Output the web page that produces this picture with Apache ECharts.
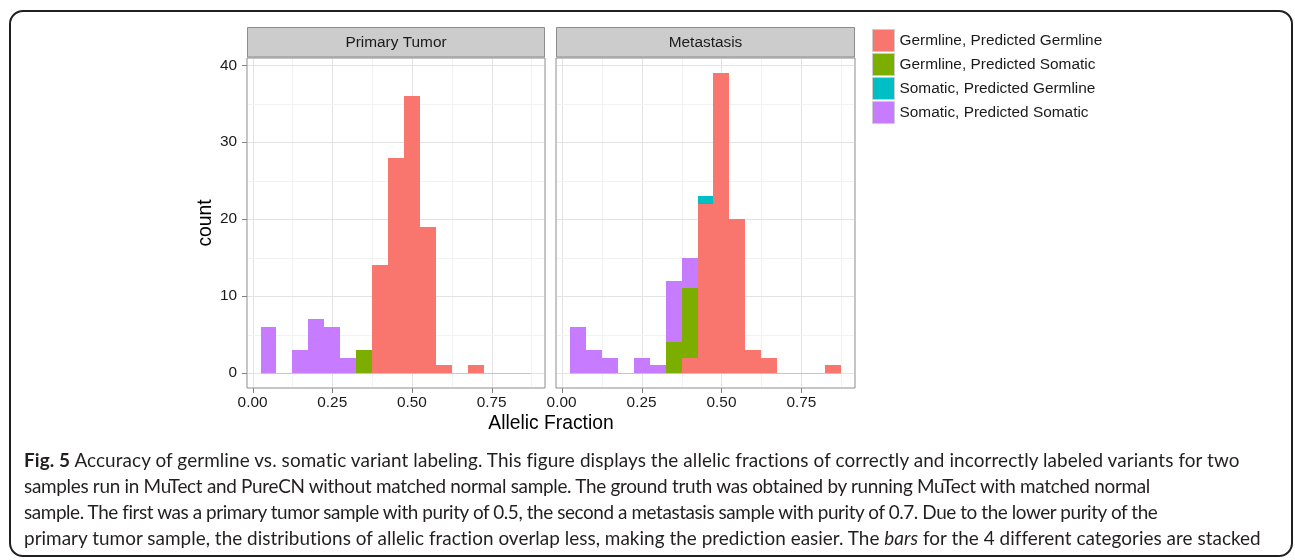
<!DOCTYPE html>
<html>
<head>
<meta charset="utf-8">
<script src="https://cdn.jsdelivr.net/npm/echarts@6/dist/echarts.min.js"></script>
<style>
html,body{margin:0;padding:0;background:#fff;}
#wrap{position:relative;width:1295px;height:560px;overflow:hidden;background:#fff;}
#chart{position:absolute;left:0;top:0;width:1295px;height:560px;}
#frame{position:absolute;left:9px;top:10px;width:1284px;height:547px;border:2px solid #231f20;border-radius:14px;box-sizing:border-box;pointer-events:none;}
#caption{position:absolute;left:24px;top:447px;font-family:Lato,'Open Sans',sans-serif;color:#231f20;white-space:nowrap;}
#caption div{height:26px;line-height:26px;}
</style>
</head>
<body>
<div id="wrap">
  <div id="chart"></div>
  <div id="frame"></div>
  <div id="caption"></div>
</div>
<script>
// ---------- data ----------
const binCenters = [0.05,0.10,0.15,0.20,0.25,0.30,0.35,0.40,0.45,0.50,0.55,0.60,0.65,0.70,0.75,0.80,0.85];
const binWidth = 0.05;
const categories = ['Germline, Predicted Germline','Germline, Predicted Somatic','Somatic, Predicted Germline','Somatic, Predicted Somatic'];
const categoryColors = ['#F8766D','#7CAE00','#00BFC4','#C77CFF'];
const panelNames = ['Primary Tumor','Metastasis'];

// Primary Tumor counts per bin
const primaryGermGerm = [0,0,0,0,0,0,0,14,28,36,19,1,0,1,0,0,0];
const primaryGermSom  = [0,0,0,0,0,0,3,0,0,0,0,0,0,0,0,0,0];
const primarySomGerm  = [0,0,0,0,0,0,0,0,0,0,0,0,0,0,0,0,0];
const primarySomSom   = [6,0,3,7,6,2,0,0,0,0,0,0,0,0,0,0,0];
// Metastasis counts per bin
const metaGermGerm = [0,0,0,0,0,0,0,2,22,39,20,3,2,0,0,0,1];
const metaGermSom  = [0,0,0,0,0,0,4,9,0,0,0,0,0,0,0,0,0];
const metaSomGerm  = [0,0,0,0,0,0,0,0,1,0,0,0,0,0,0,0,0];
const metaSomSom   = [6,3,2,0,2,1,8,4,0,0,0,0,0,0,0,0,0];

const xMajorTicks = [0, 0.25, 0.5, 0.75];
const xMinorTicks = [0.125, 0.375, 0.625, 0.875];
const yMajorTicks = [0, 10, 20, 30, 40];
const yMinorTicks = [5, 15, 25, 35];
const xLimits = [-0.0175, 0.9175];
const yLimits = [-1.95, 40.95];

const xTitle = 'Allelic Fraction';
const yTitle = 'count';

const captionBold = 'Fig. 5';
const captionLines = [
  ' Accuracy of germline vs. somatic variant labeling. This figure displays the allelic fractions of correctly and incorrectly labeled variants for two',
  'samples run in MuTect and PureCN without matched normal sample. The ground truth was obtained by running MuTect with matched normal',
  'sample. The first was a primary tumor sample with purity of 0.5, the second a metastasis sample with purity of 0.7. Due to the lower purity of the',
  'primary tumor sample, the distributions of allelic fraction overlap less, making the prediction easier. The |bars| for the 4 different categories are stacked'
];
const captionLineEnds = [1240, 1150, 1157, 1261];

// ---------- caption ----------
(function(){
  const cap = document.getElementById('caption');
  const left = 24;
  const ctx = document.createElement('canvas').getContext('2d');
  ctx.font = '20px Lato';
  const w = ctx.measureText(captionLines[3].replace(/\|/g,'')).width;
  const size = 20 * (captionLineEnds[3] - left) / w;
  cap.style.fontSize = size.toFixed(2) + 'px';
  captionLines.forEach((ln, i) => {
    const d = document.createElement('div');
    let html = ln.replace(/\|([^|]+)\|/g, '<i>$1</i>');
    if (i === 0) html = '<b>' + captionBold + '</b>' + html;
    const s = document.createElement('span');
    s.innerHTML = html;
    d.appendChild(s);
    cap.appendChild(d);
    const measured = s.getBoundingClientRect().width;
    const chars = s.textContent.length;
    const ls = ((captionLineEnds[i] - left) - measured) / chars;
    s.style.letterSpacing = ls.toFixed(3) + 'px';
  });
})();

// ---------- chart ----------
const FONT = "'Liberation Sans', Arial, Helvetica, sans-serif";
const panelData = [
  [primaryGermGerm, primaryGermSom, primarySomGerm, primarySomSom],
  [metaGermGerm, metaGermSom, metaSomGerm, metaSomSom]
];
const grids = [
  {left: 247, top: 58, width: 298, height: 330},
  {left: 556, top: 58, width: 299, height: 330}
];

function barRender(params, api) {
  const x = api.value(0), y0 = api.value(1), y1 = api.value(2);
  if (!(y1 > y0)) return null;
  const p0 = api.coord([x - binWidth / 2, y1]);
  const p1 = api.coord([x + binWidth / 2, y0]);
  const xa = Math.round(p0[0]), xb = Math.round(p1[0]);
  const ya = Math.round(p0[1]), yb = Math.round(p1[1]);
  return {
    type: 'rect',
    shape: {x: xa, y: ya, width: xb - xa, height: yb - ya},
    style: {fill: api.visual('color')}
  };
}

function gridRender(params, api) {
  const v = api.value(0), dir = api.value(1), major = api.value(2);
  const cs = params.coordSys;
  const color = major ? '#E3E3E3' : '#F2F2F2';
  if (dir === 0) {
    const px = Math.round(api.coord([v, 0])[0]) + 0.5;
    return {type: 'line', shape: {x1: px, y1: cs.y + 1, x2: px, y2: cs.y + cs.height - 1}, style: {stroke: color, lineWidth: 1}};
  }
  const py = Math.round(api.coord([0, v])[1]) + 0.5;
  return {type: 'line', shape: {x1: cs.x + 1, y1: py, x2: cs.x + cs.width - 1, y2: py}, style: {stroke: color, lineWidth: 1}};
}

function tickRender(params, api) {
  const v = api.value(0), dir = api.value(1);
  const cs = params.coordSys;
  const style = {stroke: '#7F7F7F', lineWidth: 1};
  if (dir === 0) {
    const px = Math.round(api.coord([v, 0])[0]) + 0.5;
    const yb = cs.y + cs.height;
    return {type: 'line', shape: {x1: px, y1: yb, x2: px, y2: yb + 5}, style: style};
  }
  const py = Math.round(api.coord([0, v])[1]) + 0.5;
  return {type: 'line', shape: {x1: cs.x - 5, y1: py, x2: cs.x, y2: py}, style: style};
}

function baseRender(color) {
  return function(params, api) {
    const a = api.coord([binCenters[0] - binWidth / 2, 0]);
    const b = api.coord([binCenters[binCenters.length - 1] + binWidth / 2, 0]);
    const py = Math.round(a[1]) + 0.5;
    return {type: 'line', shape: {x1: Math.round(a[0]), y1: py, x2: Math.round(b[0]), y2: py}, style: {stroke: color, lineWidth: 1}};
  };
}

const gridLineData = []
  .concat(xMajorTicks.map(v => [v, 0, 1]))
  .concat(xMinorTicks.map(v => [v, 0, 0]))
  .concat(yMajorTicks.map(v => [v, 1, 1]))
  .concat(yMinorTicks.map(v => [v, 1, 0]));

const series = [];
const xAxes = [];
const yAxes = [];
const graphics = [];

panelNames.forEach((pname, gi) => {
  xAxes.push({
    type: 'value', gridIndex: gi, min: xLimits[0], max: xLimits[1],
    axisLine: {show: false},
    axisTick: {show: false},
    axisLabel: {show: true, customValues: xMajorTicks, formatter: v => Number(v).toFixed(2), fontSize: 15.4, color: '#1a1a1a', fontFamily: FONT, margin: 7},
    splitLine: {show: false}
  });
  yAxes.push({
    type: 'value', gridIndex: gi, min: yLimits[0], max: yLimits[1],
    axisLine: {show: false},
    axisTick: {show: false},
    axisLabel: {show: gi === 0, customValues: yMajorTicks, formatter: v => String(Math.round(v)), fontSize: 15.4, color: '#1a1a1a', fontFamily: FONT, margin: 10},
    splitLine: {show: false}
  });
  series.push({
    type: 'custom', xAxisIndex: gi, yAxisIndex: gi, z: 1, silent: true,
    renderItem: gridRender, data: gridLineData, clip: true
  });
  // stacked bars: bottom to top in category order
  const cum = binCenters.map(() => 0);
  panelData[gi].forEach((arr, ci) => {
    const d = binCenters.map((x, bi) => {
      const y0 = cum[bi];
      const y1 = y0 + arr[bi];
      cum[bi] = y1;
      return [x, y0, y1];
    });
    series.push({
      type: 'custom', name: categories[ci], xAxisIndex: gi, yAxisIndex: gi, z: 2,
      itemStyle: {color: categoryColors[ci]},
      renderItem: barRender, data: d, clip: true,
      encode: {x: 0, y: [1, 2]}
    });
  });
  series.push({
    type: 'custom', xAxisIndex: gi, yAxisIndex: gi, z: 3, silent: true,
    renderItem: baseRender(gi === 0 ? 'rgba(214,160,156,0.55)' : 'rgba(170,165,175,0.5)'),
    data: [[0, 0]], clip: true
  });
  const tickData = xMajorTicks.map(v => [v, 0]).concat(gi === 0 ? yMajorTicks.map(v => [v, 1]) : []);
  series.push({
    type: 'custom', xAxisIndex: gi, yAxisIndex: gi, z: 3, silent: true,
    renderItem: tickRender, data: tickData, clip: false
  });
  // facet strip
  const g = grids[gi];
  graphics.push({
    type: 'rect', silent: true,
    shape: {x: g.left + 0.5, y: 27.5, width: g.width - 1, height: 29.5},
    style: {fill: '#CCCCCC', stroke: '#8C8C8C', lineWidth: 1}
  });
  graphics.push({
    type: 'text', silent: true,
    x: g.left + g.width / 2, y: 42.5,
    style: {text: pname, font: '15.4px ' + FONT, fill: '#1a1a1a', align: 'center', verticalAlign: 'middle'}
  });
});

graphics.push({
  type: 'text', silent: true, x: 206, y: 223, rotation: Math.PI / 2,
  style: {text: yTitle, font: '19.3px ' + FONT, fill: '#000', align: 'center', verticalAlign: 'middle'}
});
graphics.push({
  type: 'text', silent: true, x: 551, y: 423.5,
  style: {text: xTitle, font: '19.3px ' + FONT, fill: '#000', align: 'center', verticalAlign: 'middle'}
});

const chart = echarts.init(document.getElementById('chart'), null, {renderer: 'canvas'});
chart.setOption({
  animation: false,
  backgroundColor: 'transparent',
  grid: grids.map(g => Object.assign({show: true, borderColor: '#8C8C8C', borderWidth: 1, backgroundColor: 'transparent', containLabel: false}, g)),
  xAxis: xAxes,
  yAxis: yAxes,
  legend: {
    data: categories, orient: 'vertical', left: 872, top: 29,
    itemWidth: 22, itemHeight: 22, itemGap: 1, padding: 0, icon: 'rect',
    selectedMode: false,
    itemStyle: {borderColor: '#CCCCCC', borderWidth: 1},
    textStyle: {fontSize: 15.4, color: '#1a1a1a', fontFamily: FONT}
  },
  graphic: graphics,
  series: series
});
</script>
</body>
</html>
